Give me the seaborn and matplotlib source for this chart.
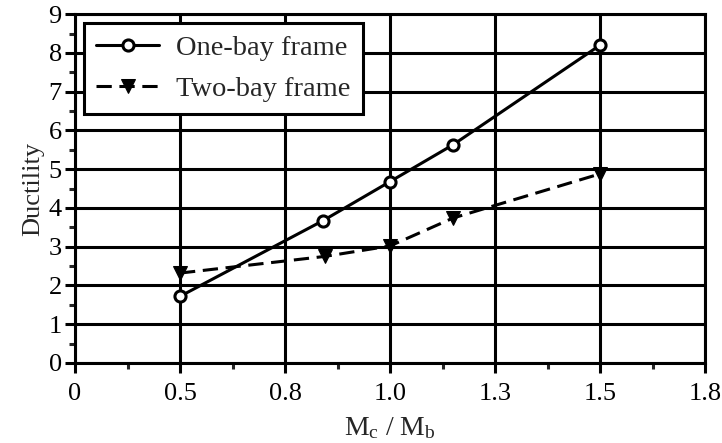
import numpy as np
import pandas as pd
import matplotlib
matplotlib.use("Agg")
import matplotlib.pyplot as plt
import seaborn as sns

# values
one_bay_x = [0.5, 0.84, 1.0, 1.15, 1.5]
one_bay_y = [1.72, 3.67, 4.68, 5.63, 8.2]
two_bay_x = [0.5, 0.845, 1.0, 1.15, 1.5]
two_bay_y = [2.32, 2.75, 3.02, 3.74, 4.88]

xtick_pos = [0.25, 0.5, 0.75, 1.0, 1.25, 1.5, 1.75]
xtick_labels = ["0", "0.5", "0.8", "1.0", "1.3", "1.5", "1.8"]
ytick_pos = list(range(0, 10))

sns.set_style("white")
plt.rcParams['font.family'] = ['Liberation Serif', 'DejaVu Serif']
plt.rcParams['mathtext.fontset'] = 'custom'
plt.rcParams['mathtext.rm'] = 'Liberation Serif'
plt.rcParams['mathtext.it'] = 'Liberation Serif'

df_one = pd.DataFrame({'x': one_bay_x, 'y': one_bay_y})
df_two = pd.DataFrame({'x': two_bay_x, 'y': two_bay_y})

fig = plt.figure(figsize=(7.22, 4.43), dpi=100)
ax = fig.add_axes([0.1039, 0.1806, 0.8726, 0.7874])

sns.lineplot(data=df_one, x='x', y='y', ax=ax, color='black', lw=2.2,
             marker='o', markersize=8, markerfacecolor='white',
             markeredgecolor='black', markeredgewidth=2.2,
             label='One-bay frame', zorder=5)
sns.lineplot(data=df_two, x='x', y='y', ax=ax, color='black', lw=2.2,
             marker='v', markersize=10, markerfacecolor='black',
             markeredgecolor='black', dashes=False, label='Two-bay frame',
             zorder=5)
ax.lines[1].set_dashes([5, 2.5])

ax.set_xlim(0.25, 1.75)
ax.set_ylim(0, 9)
ax.set_xticks(xtick_pos)
ax.set_xticklabels(xtick_labels)
ax.set_yticks(ytick_pos)
ax.set_xticks([p + 0.125 for p in xtick_pos[:-1]], minor=True)
ax.set_yticks([v + 0.5 for v in ytick_pos[:-1]], minor=True)

ax.grid(True, which='major', color='black', lw=2.2)
ax.set_axisbelow(True)
ax.tick_params(which='major', direction='out', length=7.5, width=2.2,
               labelsize=19, colors='black')
ax.tick_params(axis='x', which='major', pad=7)
ax.tick_params(axis='y', which='major', pad=2)
ax.tick_params(which='minor', direction='out', length=4.5, width=2.2)
ax.tick_params(axis='x', which='both', bottom=True)
ax.tick_params(axis='y', which='both', left=True)
for s in ax.spines.values():
    s.set_visible(True)
    s.set_color('black')
    s.set_linewidth(2.2)

ax.set_xlabel(r'M$_\mathrm{c}$ / M$_\mathrm{b}$', fontsize=20, labelpad=7)
ax.set_ylabel('Ductility', fontsize=19, labelpad=3)

leg = ax.legend(loc='upper left', bbox_to_anchor=(0.0, 1.0), fontsize=20.5,
                frameon=True, fancybox=False, framealpha=1,
                edgecolor='black', handlelength=2.2, handletextpad=0.6,
                borderpad=0.45, labelspacing=0.5, borderaxespad=0.3)
leg.get_frame().set_linewidth(2.2)

fig.savefig('out.png', dpi=100)
